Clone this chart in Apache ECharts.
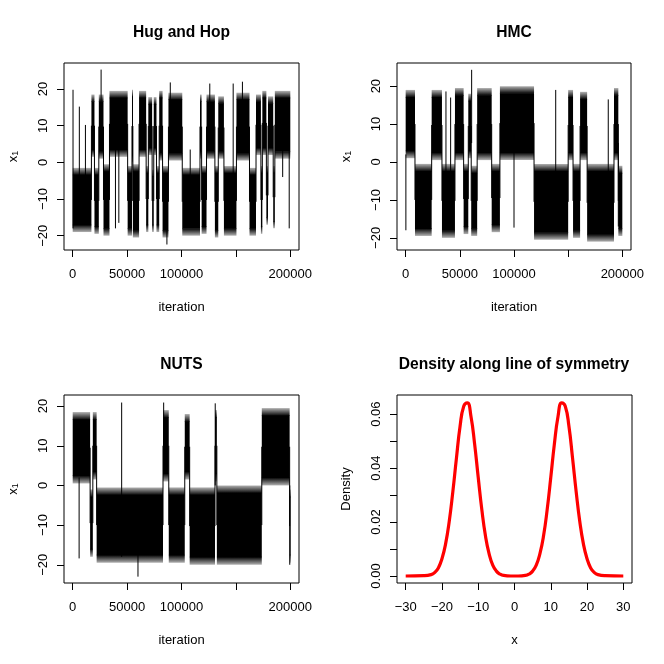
<!DOCTYPE html>
<html>
<head>
<meta charset="utf-8">
<script src="https://cdn.jsdelivr.net/npm/echarts@6/dist/echarts.min.js"></script>
<style>
html, body { margin: 0; padding: 0; background: #fff; }
#chart { width: 664px; height: 664px; }
</style>
</head>
<body>
<div id="chart"></div>
<script>
// trace blocks: [start iteration, end iteration, low, high]
var hugBlocks = [
    [0, 17200, -19, -1.5], [17200, 20000, 1.5, 18.5], [20000, 24000, -19.5, -1.5],
    [24000, 28300, 1, 18.5], [28300, 33800, -20, -0.5], [33800, 50500, 1.5, 19.5],
    [50500, 54500, -20, -1], [54500, 55300, 0, 19.8], [55300, 61000, -20.5, -0.5],
    [61000, 67500, 1.5, 19.5], [67500, 69500, -19, -1], [69500, 73000, 2, 17.8],
    [73000, 74500, -19, -2], [74500, 77000, 2, 17.8], [77000, 79500, -19, -1],
    [79500, 82600, 0.5, 19.5], [82600, 88000, -20.5, -1], [88000, 100700, 0.5, 19],
    [100700, 117000, -20, -1.5], [117000, 118500, 1, 18.5], [118500, 123000, -19.5, -1],
    [123000, 130700, 1, 18.5], [130700, 133800, -20.5, -1], [133800, 139000, 1, 18],
    [139000, 150500, -20, -1], [150500, 162500, 0.5, 19], [162500, 168500, -20, -1.5],
    [168500, 173000, 2, 18.5], [173000, 174300, -19.5, -1], [174300, 178000, 2, 19.5],
    [178000, 179500, -17, -1], [179500, 184300, 2, 18], [184300, 185800, -18, -1],
    [185800, 200000, 1, 19.5]
];
// single excursions: [iteration, low, high]
var hugSpikes = [
    [300, -18, 19.8], [6100, -10, 15.2], [11700, -10, 10.2], [26100, 5, 25.3],
    [39300, -18, 5], [42400, -16.5, 5], [86600, -22.4, -10], [89700, 5, 21.8],
    [108000, -10, 3.5], [126000, 5, 21.5], [147500, -18, 21.5], [156000, 5, 22],
    [193000, -4, 10], [199000, -18, 5]
];

var hmcBlocks = [
    [0, 8600, 1, 19], [8600, 24000, -19.5, -0.5], [24000, 33500, 0.5, 19],
    [33500, 45500, -20, -0.5], [45500, 53500, 0.5, 19.5], [53500, 57800, -19, -0.5],
    [57800, 60500, 1, 18], [60500, 66000, -19.5, -1], [66000, 79400, 0.5, 19.5],
    [79400, 87000, -18.5, -0.5], [87000, 118500, 0.5, 20], [118500, 150000, -20.5, -0.5],
    [150000, 154500, 0.5, 19], [154500, 161000, -20, -0.5], [161000, 167500, 0.5, 18.5],
    [167500, 192300, -21, -0.5], [192300, 196300, 0.5, 19.5], [196300, 200000, -19.5, -1]
];
var hmcSpikes = [
    [200, -18, 2], [37200, -5, 18.6], [41500, -5, 17], [60900, 5, 24.3],
    [100000, -17.3, 5], [138500, -5, 19], [187000, -5, 16.5], [196300, -17, 5]
];

var nutsBlocks = [
    [0, 16000, 0.5, 18.5], [16000, 18500, -18, -1], [18500, 22000, 1.5, 18.5],
    [22000, 83000, -19.5, -0.5], [83000, 88300, 1, 19], [88300, 103000, -19.5, -0.5],
    [103000, 107500, 1.5, 18], [107500, 130800, -20, -0.5], [130800, 132500, 1, 19],
    [132500, 173800, -20, 0], [173800, 199400, 0, 19.5], [199400, 200000, -19.5, -1]
];
var nutsSpikes = [
    [5900, -18.4, 2], [45000, -18, 20.9], [60000, -23, -12], [83600, 5, 20.9],
    [131000, 0, 20.7], [199500, -20, 0]
];

// density along line of symmetry
var densX = [-30, -25, -23, -22, -21, -20, -19, -18, -17, -16, -15, -14, -13, -12, -11, -10,
    -9, -8, -7, -6, -5, -4, -3, -1, 0, 1, 3, 4, 5, 6, 7, 8, 9, 10, 11, 12, 13, 14, 15, 16,
    17, 18, 19, 20, 21, 22, 23, 25, 30];
var densY = [0, 0.0001, 0.0005, 0.0013, 0.0030, 0.0064, 0.0119, 0.0202, 0.0313, 0.0438, 0.0556, 0.0629, 0.0642, 0.0591, 0.0490, 0.0365,
    0.0245, 0.0148, 0.0082, 0.0040, 0.0018, 0.0007, 0.0002, 0, 0, 0, 0.0002, 0.0007, 0.0018, 0.0040, 0.0082, 0.0148, 0.0245, 0.0365, 0.0490, 0.0591, 0.0642, 0.0629, 0.0556, 0.0438,
    0.0313, 0.0202, 0.0119, 0.0064, 0.0030, 0.0013, 0.0005, 0.0001, 0];

var iterTicks = [0, 50000, 100000, 150000, 200000];
var iterLabels = [0, 50000, 100000, 200000];
var traceTicks = [-20, -10, 0, 10, 20];
var densXTicks = [-30, -20, -10, 0, 10, 20, 30];
var densYTicks = [0, 0.01, 0.02, 0.03, 0.04, 0.05, 0.06];
var densYLabels = [0, 0.02, 0.04, 0.06];

var FONT = "'Liberation Sans', Arial, sans-serif";

var dom = document.getElementById("chart");
var chart = echarts.init(dom, null, {renderer: 'canvas'});

function minus(v) {
    return String(v).replace('-', '\u2212');
}

var labelStyle = {fontSize: 13, color: '#000', fontFamily: FONT};

function xAxisFor(gi, min, max, ticks, labels, name) {
    return {
        gridIndex: gi, type: 'value', min: min, max: max,
        axisLine: {show: false, onZero: false}, splitLine: {show: false},
        axisTick: {show: true, length: 7, customValues: ticks, lineStyle: {color: '#000'}},
        axisLabel: Object.assign({customValues: labels, margin: 18, formatter: minus}, labelStyle),
        name: name, nameLocation: 'middle', nameGap: 51, nameTextStyle: labelStyle
    };
}

function yAxisFor(gi, min, max, ticks, labels, name, fmt, gap) {
    return {
        gridIndex: gi, type: 'value', min: min, max: max,
        axisLine: {show: false, onZero: false}, splitLine: {show: false},
        axisTick: {show: true, length: 7, customValues: ticks, lineStyle: {color: '#000'}},
        axisLabel: Object.assign({customValues: labels, margin: 14, rotate: 90, formatter: fmt}, labelStyle),
        name: name, nameLocation: 'middle', nameGap: gap, nameRotate: 90,
        nameTextStyle: Object.assign({rich: {s: {fontSize: 9, color: '#000', fontFamily: FONT, verticalAlign: 'bottom', padding: [5, 0, 0, 0]}}}, labelStyle)
    };
}

// fuzzy edge for the dense noise at the block borders
var RIM = 2;
function fade(up) {
    var stops = [{offset: 0, color: 'rgba(0,0,0,0.3)'}, {offset: 1, color: '#000'}];
    if (!up) stops = [{offset: 0, color: '#000'}, {offset: 1, color: 'rgba(0,0,0,0.3)'}];
    return new echarts.graphic.LinearGradient(0, 0, 0, 1, stops);
}

function blockSeries(gi, blocks) {
    return {
        type: 'custom', xAxisIndex: gi, yAxisIndex: gi, data: blocks, silent: true, clip: true,
        encode: {x: [0, 1], y: [2, 3]},
        renderItem: function (params, api) {
            var x0 = api.value(0), x1 = api.value(1), lo = api.value(2), hi = api.value(3);
            var top = api.coord([x0, hi]), bot = api.coord([x1, lo]);
            var ct = api.coord([x0, hi - RIM]), cb = api.coord([x1, lo + RIM]);
            var w = Math.max(1, bot[0] - top[0]);
            var kids = [
                {type: 'rect', shape: {x: top[0], y: top[1], width: w, height: ct[1] - top[1]}, style: {fill: fade(true)}},
                {type: 'rect', shape: {x: top[0], y: ct[1] - 0.5, width: w, height: cb[1] - ct[1] + 1}, style: {fill: '#000'}},
                {type: 'rect', shape: {x: top[0], y: cb[1], width: w, height: bot[1] - cb[1]}, style: {fill: fade(false)}}
            ];
            var prev = blocks[params.dataIndex - 1];
            if (prev) {
                var p = api.coord([x0, (prev[2] + prev[3]) / 2]), q = api.coord([x0, (lo + hi) / 2]);
                kids.push({type: 'line', shape: {x1: top[0], y1: p[1], x2: top[0], y2: q[1]}, style: {stroke: '#000', lineWidth: 1}});
            }
            return {type: 'group', children: kids};
        }
    };
}

function spikeSeries(gi, spikes) {
    return {
        type: 'custom', xAxisIndex: gi, yAxisIndex: gi, data: spikes, silent: true, clip: true,
        encode: {x: 0, y: [1, 2]},
        renderItem: function (params, api) {
            var a = api.coord([api.value(0), api.value(2)]), b = api.coord([api.value(0), api.value(1)]);
            return {type: 'line', shape: {x1: a[0], y1: a[1], x2: b[0], y2: b[1]}, style: {stroke: '#000', lineWidth: 1}};
        }
    };
}

var titleStyle = {fontSize: 15.6, fontWeight: 'bold', color: '#000', fontFamily: FONT};
var xName = '{s|1}';
var gridBox = {show: true, borderColor: '#000', borderWidth: 1, backgroundColor: 'transparent'};

var option = {
    animation: false,
    backgroundColor: '#fff',
    title: [
        {text: 'Hug and Hop', left: 181.5, top: 25, padding: 0, textAlign: 'center', textStyle: titleStyle},
        {text: 'HMC', left: 514, top: 25, padding: 0, textAlign: 'center', textStyle: titleStyle},
        {text: 'NUTS', left: 181.5, top: 357, padding: 0, textAlign: 'center', textStyle: titleStyle},
        {text: 'Density along line of symmetry', left: 514, top: 357, padding: 0, textAlign: 'center', textStyle: titleStyle}
    ],
    grid: [
        Object.assign({left: 64, top: 63, width: 235, height: 187}, gridBox),
        Object.assign({left: 397, top: 63, width: 234, height: 187}, gridBox),
        Object.assign({left: 64, top: 395, width: 235, height: 188}, gridBox),
        Object.assign({left: 397, top: 395, width: 235, height: 188}, gridBox)
    ],
    xAxis: [
        xAxisFor(0, -8000, 208000, iterTicks, iterLabels, 'iteration'),
        xAxisFor(1, -8000, 208000, iterTicks, iterLabels, 'iteration'),
        xAxisFor(2, -8000, 208000, iterTicks, iterLabels, 'iteration'),
        xAxisFor(3, -32.4, 32.4, densXTicks, densXTicks, 'x')
    ],
    yAxis: [
        yAxisFor(0, -23.9, 27.1, traceTicks, traceTicks, 'x' + xName, minus, 44),
        yAxisFor(1, -23.2, 26.1, traceTicks, traceTicks, 'x' + xName, minus, 44),
        yAxisFor(2, -24.6, 22.8, traceTicks, traceTicks, 'x' + xName, minus, 44),
        yAxisFor(3, -0.0026, 0.0671, densYTicks, densYLabels, 'Density', function (v) { return Number(v).toFixed(2); }, 44)
    ],
    series: [
        blockSeries(0, hugBlocks), spikeSeries(0, hugSpikes),
        blockSeries(1, hmcBlocks), spikeSeries(1, hmcSpikes),
        blockSeries(2, nutsBlocks), spikeSeries(2, nutsSpikes),
        {
            type: 'line', xAxisIndex: 3, yAxisIndex: 3, smooth: true, symbol: 'none', silent: true,
            lineStyle: {color: '#ff0000', width: 3.2},
            data: densX.map(function (x, i) { return [x, densY[i]]; })
        }
    ]
};

if (option && typeof option === "object") {
    chart.setOption(option, true);
}
</script>
</body>
</html>
